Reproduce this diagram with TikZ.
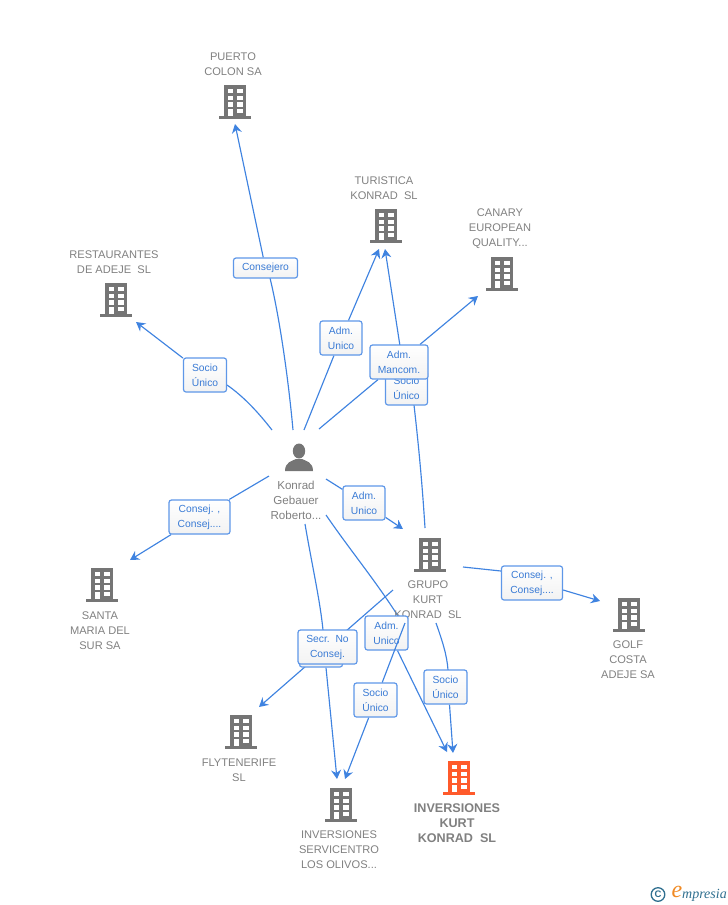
\documentclass[tikz,border=0pt]{standalone}
\usepackage{fontspec}
\setmainfont{Liberation Sans}
\newfontfamily\logoserif{Liberation Serif}
\usetikzlibrary{arrows.meta,backgrounds}
\definecolor{edgeblue}{HTML}{3F83E0}
\definecolor{boxblue}{HTML}{5E97E8}
\definecolor{labelblue}{HTML}{3A7BD5}
\definecolor{namegrey}{HTML}{808080}
\definecolor{icongrey}{HTML}{757575}
\definecolor{iconorange}{HTML}{FF5A2B}
\definecolor{logoteal}{HTML}{2F6F8F}
\definecolor{logoorange}{HTML}{F08A24}
\tikzset{
  x=1pt,y=-1pt,
  lab/.style={draw=boxblue,line width=1.2pt,rounded corners=2.5pt,top color=white,bottom color=white!95!black,
    text=labelblue,font=\fontsize{10.3}{15}\selectfont,align=center,inner sep=0pt,minimum height=34pt},
  namelbl/.style={text=namegrey,font=\fontsize{11.1}{15}\selectfont,align=center,inner sep=0pt},
  bigname/.style={text=namegrey,font=\fontsize{12.6}{15}\selectfont\bfseries,align=center,inner sep=0pt},
  conn/.style={draw=edgeblue,line width=1.15pt},
  arr/.style={conn,-{Stealth[length=9pt,width=10pt,inset=3pt]}},
  pics/building/.style={code={
    \fill[#1] (-11,-17) rectangle (11,15);
    \fill[#1] (-16,14) rectangle (16,17);
    \foreach \yy in {-13,-6.3,0.3}{
      \fill[white] (-7.5,\yy) rectangle (-2.3,\yy+4.4);
      \fill[white] (2.3,\yy) rectangle (7.7,\yy+4.4);
    }
    \fill[white] (-7.5,6.5) rectangle (-2.3,14);
    \fill[white] (2.3,6.5) rectangle (7.7,11);
  }},
  pics/building/.default=icongrey
}
\begin{document}
\begin{tikzpicture}
\useasboundingbox (0,0) rectangle (728,905);
% icons
\pic at (235,102) {building};
\pic at (386,226) {building};
\pic at (502,274) {building};
\pic at (116,300) {building};
\pic at (430,555) {building};
\pic at (102,585) {building};
\pic at (629,615) {building};
\pic at (241,732) {building};
\pic at (341,805) {building};
\pic at (459,778) {building=iconorange};
% person
\fill[icongrey] (299,451) ellipse (6.2pt and 7.5pt);
\fill[icongrey] (285,471) .. controls (285,462) and (292,461) .. (296,459) -- (302,459)
  .. controls (306,461) and (313,462) .. (313,471) -- cycle;
% names
\node[namelbl] (puerto) at (233,64) {PUERTO\\COLON SA};
\node[namelbl] (turistica) at (384,188) {TURISTICA\\KONRAD\ \ SL};
\node[namelbl] (canary) at (500,229) {CANARY\\EUROPEAN\\QUALITY...};
\node[namelbl] (restaurantes) at (114,262) {RESTAURANTES\\DE ADEJE\ \ SL};
\node[namelbl,font=\fontsize{11.6}{15}\selectfont] (konrad) at (296,500) {Konrad\\Gebauer\\Roberto...};
\node[namelbl] (grupo) at (428,600) {GRUPO\\KURT\\KONRAD\ \ SL};
\node[namelbl] (santa) at (100,631) {SANTA\\MARIA DEL\\SUR SA};
\node[namelbl] (golf) at (628,660) {GOLF\\COSTA\\ADEJE SA};
\node[namelbl] (flyte) at (239,770) {FLYTENERIFE\\SL};
\node[namelbl] (servi) at (339,850) {INVERSIONES\\SERVICENTRO\\LOS OLIVOS...};
\node[bigname] (kurt) at (457,823) {INVERSIONES\\KURT\\KONRAD\ \ SL};
% labels (stacking order as printed)
\node[lab,minimum width=64pt,minimum height=20pt] (lconsejero) at (265.5,268) {Consejero};
\node[lab,minimum width=43pt] (lsociorest) at (205,375) {Socio\\Único};
\node[lab,minimum width=42pt] (ladmtur) at (341,338) {Adm.\\Unico};
\node[lab,minimum width=42pt] (lsociotur) at (406.5,388) {Socio\\Único};
\node[lab,minimum width=58pt] (lmancom) at (399,362) {Adm.\\Mancom.};
\node[lab,minimum width=42pt] (ladmgrupo) at (364,503) {Adm.\\Unico};
\node[lab,minimum width=61pt] (lconsejsanta) at (199.5,517) {Consej. ,\\Consej....};
\node[lab,minimum width=61pt] (lconsejgolf) at (532,583) {Consej. ,\\Consej....};
\node[lab,minimum width=43pt] (lsociokurt) at (445.5,687) {Socio\\Único};
\node[lab,minimum width=43pt] (lsocioservi) at (375.5,700) {Socio\\Único};
\node[lab,minimum width=43pt] (ladmkurt) at (386.5,633) {Adm.\\Unico};
\node[lab,minimum width=43pt] (lhidden) at (321,650) {};
\node[lab,minimum width=59pt] (lsecr) at (327.5,647) {Secr.\ \ No\\Consej.};
% free ends
\coordinate (a1) at (293,430); \coordinate (b1) at (235,124);
\coordinate (a2) at (272,430); \coordinate (b2) at (136,322);
\coordinate (a3) at (304,430); \coordinate (b3) at (379,249);
\coordinate (a4) at (319,429); \coordinate (b4) at (478,296);
\coordinate (a5) at (425,528); \coordinate (b5) at (385,249);
\coordinate (a6) at (326,479); \coordinate (b6) at (403,529);
\coordinate (a7) at (269,476); \coordinate (b7) at (130,560);
\coordinate (a8) at (463,567); \coordinate (b8) at (600,601);
\coordinate (a9) at (436,623); \coordinate (b9) at (453,753);
\coordinate (a10) at (405,623); \coordinate (b10) at (345,779);
\coordinate (a11) at (326,515); \coordinate (b11) at (447,752);
\coordinate (a12) at (305,524); \coordinate (b12) at (337,779);
\coordinate (a13) at (393,590); \coordinate (b13) at (259,707);
% connectors
\begin{scope}[on background layer]
\draw[conn] (a1) .. controls (288,375) and (279,315) .. (270,278);
\draw[arr] (lconsejero) -- (b1);
\draw[conn] (a2) .. controls (258,412) and (243,396) .. (227,385);
\draw[arr] (lsociorest) -- (b2);
\draw[conn] (a3) -- (ladmtur);
\draw[arr] (ladmtur) -- (b3);
\draw[conn] (a4) -- (lmancom);
\draw[arr] (lmancom) -- (b4);
\draw[conn] (a5) .. controls (422,480) and (418,440) .. (414,405);
\draw[arr] (lsociotur) -- (b5);
\draw[conn] (a6) -- (ladmgrupo);
\draw[arr] (ladmgrupo) -- (b6);
\draw[conn] (a7) -- (lconsejsanta);
\draw[arr] (lconsejsanta) -- (b7);
\draw[conn] (a8) -- ([yshift=12pt]lconsejgolf.west);
\draw[arr] ([yshift=-7pt]lconsejgolf.east) -- (b8);
\draw[conn] (a9) .. controls (442,640) and (447,655) .. (448,670);
\draw[arr] ([xshift=4pt]lsociokurt.south) -- (b9);
\draw[conn] (a11) .. controls (350,550) and (375,580) .. (398,616);
\draw[arr] ([xshift=11pt]ladmkurt.south) -- (b11);
\draw[conn] (a12) .. controls (312,565) and (320,600) .. (323,630);
\draw[arr] ([xshift=5pt]lhidden.south) -- (b12);
\draw[arr] (a13) -- (b13);
\draw[arr] (lsocioservi) -- (b10);
\end{scope}
\draw[conn] (a10) -- (lsocioservi);
% logo
\draw[logoteal,line width=1.3pt] (658,894.5) circle (6.8pt);
\node[text=logoteal,font=\fontsize{9.5}{9}\selectfont\bfseries,inner sep=0pt] (copyr) at (658,894.5) {C};
\node[text=logoorange,font=\logoserif\itshape\fontsize{24}{24}\selectfont,inner sep=0pt] (logoe) at (677,892) {e};
\node[text=logoteal,font=\logoserif\itshape\fontsize{14}{14}\selectfont,inner sep=0pt,anchor=west] (logot) at (682,895) {mpresia};
\end{tikzpicture}
\end{document}
